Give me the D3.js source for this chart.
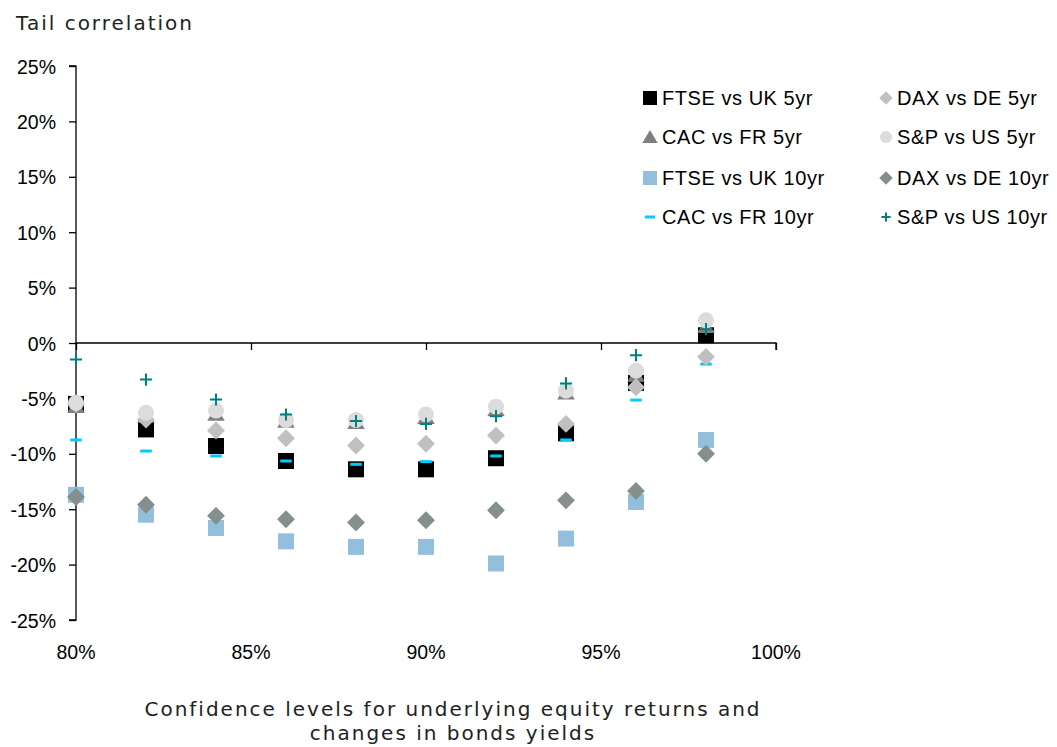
<!DOCTYPE html>
<html>
<head>
<meta charset="utf-8">
<script src="https://cdn.jsdelivr.net/npm/d3@7"></script>
<style>
  html, body { margin: 0; padding: 0; background: #fff; }
  svg { display: block; }
  .tick text { font-family: "Liberation Sans", Arial, sans-serif; font-size: 19.5px; fill: #000; }
  .title { font-family: "DejaVu Sans", Verdana, sans-serif; fill: #222; }
  .legend text { font-family: "Liberation Sans", Arial, sans-serif; font-size: 20px; letter-spacing: 0.55px; fill: #000; }
</style>
</head>
<body>
<svg id="chart" width="1057" height="747"></svg>
<script>
// Confidence levels (x) and tail correlations (%) per equity/bond pair
const levels = [80, 82, 84, 86, 88, 90, 92, 94, 96, 98];

const ftseUk5  = [-5.5, -7.8, -9.3, -10.65, -11.4, -11.4, -10.4, -8.15, -3.6, 0.7];
const daxDe5   = [-5.5, -6.9, -7.9, -8.6, -9.25, -9.1, -8.35, -7.3, -4.0, -1.25];
const cacFr5   = [-5.7, -6.6, -6.4, -7.05, -7.15, -6.7, -6.0, -4.5, -2.9, 1.5];
const spUs5    = [-5.4, -6.3, -6.1, -6.95, -6.95, -6.45, -5.75, -4.3, -2.5, 2.05];
const ftseUk10 = [-13.7, -15.5, -16.7, -17.9, -18.4, -18.4, -19.9, -17.65, -14.35, -8.75];
const daxDe10  = [-13.9, -14.6, -15.6, -15.9, -16.2, -16.0, -15.1, -14.2, -13.35, -10.0];
const cacFr10  = [-8.75, -9.75, -10.2, -10.65, -10.95, -10.7, -10.2, -8.75, -5.15, -1.9];
const spUs10   = [-1.5, -3.3, -5.1, -6.45, -7.05, -7.3, -6.6, -3.65, -1.1, 1.25];

const xTicks = [80, 85, 90, 95, 100];
const yTicks = [25, 20, 15, 10, 5, 0, -5, -10, -15, -20, -25];

const yTitle = "Tail correlation";
const xTitle = ["Confidence levels for underlying equity returns and", "changes in bonds yields"];

// Series in drawing order (later ones sit on top)
const series = [
  { name: "FTSE vs UK 5yr",  values: ftseUk5,  shape: "square",   color: "#000000" },
  { name: "CAC vs FR 5yr",   values: cacFr5,   shape: "triangle", color: "#7f7f7f" },
  { name: "FTSE vs UK 10yr", values: ftseUk10, shape: "square",   color: "#93bfdd" },
  { name: "CAC vs FR 10yr",  values: cacFr10,  shape: "dash",     color: "#00ccff" },
  { name: "DAX vs DE 5yr",   values: daxDe5,   shape: "diamond",  color: "#c0c0c0" },
  { name: "S&P vs US 5yr",   values: spUs5,    shape: "circle",   color: "#dcdcdc" },
  { name: "DAX vs DE 10yr",  values: daxDe10,  shape: "diamond",  color: "#85908e" },
  { name: "S&P vs US 10yr",  values: spUs10,   shape: "plus",     color: "#008080" }
];

// Legend grid: two columns, four rows
const legendOrder = [
  ["FTSE vs UK 5yr", "DAX vs DE 5yr"],
  ["CAC vs FR 5yr", "S&P vs US 5yr"],
  ["FTSE vs UK 10yr", "DAX vs DE 10yr"],
  ["CAC vs FR 10yr", "S&P vs US 10yr"]
];

const svg = d3.select("#chart");
const plotLeft = 76, plotRight = 776, plotTop = 66, plotBottom = 620;

const x = d3.scaleLinear().domain([80, 100]).range([plotLeft, plotRight]);
const y = d3.scaleLinear().domain([-25, 25]).range([plotBottom, plotTop]);

// Y axis with ticks on the left
const yAxis = svg.append("g")
  .attr("transform", `translate(${plotLeft},0)`)
  .call(d3.axisLeft(y).tickValues(yTicks).tickFormat(d => d + "%").tickSize(7).tickPadding(13));
yAxis.select(".domain").attr("d", `M-7,${y(25)}H0V${y(-25)}H-7`).attr("stroke", "#000").attr("stroke-width", 1.3);
yAxis.selectAll(".tick line").attr("stroke", "#000").attr("stroke-width", 1.3);
yAxis.selectAll(".tick text").attr("dy", "0.36em");

// X axis line crosses at 0 with ticks hanging down
const xAxis = svg.append("g")
  .attr("transform", `translate(0,${y(0)})`)
  .call(d3.axisBottom(x).tickValues(xTicks).tickFormat("").tickSize(7));
xAxis.select(".domain").attr("d", `M${plotLeft},0H${plotRight}V7`).attr("stroke", "#000").attr("stroke-width", 1.3);
xAxis.selectAll(".tick line").attr("stroke", "#000").attr("stroke-width", 1.3);

// X tick labels placed low, below the plot
svg.append("g").selectAll("text")
  .data(xTicks)
  .join("text")
  .attr("x", d => x(d))
  .attr("y", 659)
  .attr("text-anchor", "middle")
  .style("font-family", "'Liberation Sans', Arial, sans-serif")
  .style("font-size", "19.5px")
  .text(d => d + "%");

// Titles
svg.append("text").attr("class", "title")
  .attr("x", 16).attr("y", 30)
  .style("font-size", "20px").style("letter-spacing", "2px")
  .text(yTitle);

svg.append("text").attr("class", "title")
  .attr("text-anchor", "middle")
  .style("font-size", "20px").style("letter-spacing", "2px")
  .selectAll("tspan")
  .data(xTitle)
  .join("tspan")
  .attr("x", 453)
  .attr("y", (d, i) => 716 + i * 24)
  .text(d => d);

// Marker drawing
function drawMarker(g, shape, color, s) {
  switch (shape) {
    case "square":
      g.append("rect").attr("x", -s / 2).attr("y", -s / 2).attr("width", s).attr("height", s).attr("fill", color);
      break;
    case "triangle":
      g.append("path").attr("d", `M0,${-s * 0.5}L${s * 0.55},${s * 0.42}L${-s * 0.55},${s * 0.42}Z`).attr("fill", color);
      break;
    case "diamond": {
      const r = s * 0.56;
      g.append("path").attr("d", `M0,${-r}L${r},0L0,${r}L${-r},0Z`).attr("fill", color);
      break;
    }
    case "circle":
      g.append("circle").attr("r", s / 2).attr("fill", color);
      break;
    case "dash":
      g.append("rect").attr("x", -s * 0.36).attr("y", -1.5).attr("width", s * 0.72).attr("height", 3).attr("fill", color);
      break;
    case "plus": {
      const r = s * 0.38;
      g.append("path").attr("d", `M${-r},0H${r}M0,${-r}V${r}`).attr("stroke", color).attr("stroke-width", 2).attr("fill", "none");
      break;
    }
  }
}

const plot = svg.append("g");
series.forEach(sr => {
  plot.append("g").selectAll("g")
    .data(sr.values.map((v, i) => ({ lv: levels[i], v })))
    .join("g")
    .attr("transform", d => `translate(${x(d.lv)},${y(d.v)})`)
    .each(function () { drawMarker(d3.select(this), sr.shape, sr.color, 16); });
});

// Legend
const legend = svg.append("g").attr("class", "legend");
const colX = [650, 886], rowY = [98, 137, 178, 217];
legendOrder.forEach((row, ri) => {
  row.forEach((name, ci) => {
    const sr = series.find(s => s.name === name);
    const g = legend.append("g").attr("transform", `translate(${colX[ci]},${rowY[ri]})`);
    drawMarker(g.append("g"), sr.shape, sr.color, ci === 0 ? 14 : 12);
    g.append("text").attr("x", ci === 0 ? 12 : 11).attr("dy", "0.36em").text(name);
  });
});
</script>
</body>
</html>
